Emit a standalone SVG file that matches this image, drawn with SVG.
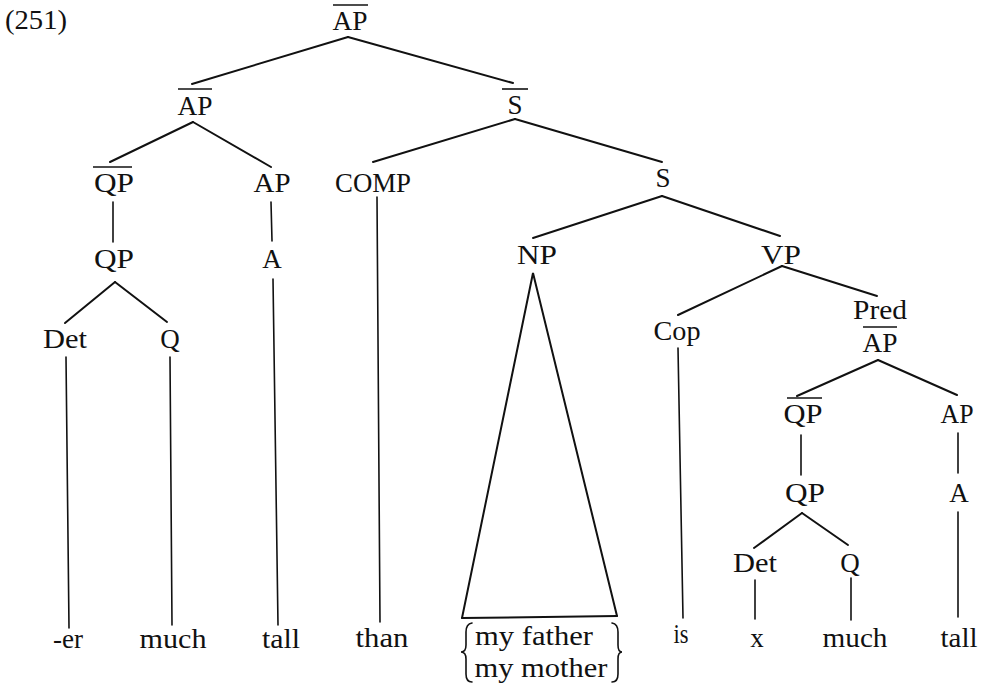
<svg xmlns="http://www.w3.org/2000/svg" width="986" height="686" viewBox="0 0 986 686">
<style>
text{font-family:"Liberation Serif","Times New Roman",serif;font-size:27px;fill:#111;text-anchor:middle}
.num{text-anchor:start}
.e{stroke:#111;stroke-width:2;fill:none;stroke-linecap:round}
.v{stroke:#111;stroke-width:1.6;fill:none;stroke-linecap:round}
.bar{stroke:#111;stroke-width:1.6}
</style>
<rect width="986" height="686" fill="#fff"/>
<text class="num" x="5" y="29" textLength="62" lengthAdjust="spacingAndGlyphs">(251)</text>
<g id="connectors">
  <line class="e" x1="348" y1="37" x2="192" y2="84"/>
  <line class="e" x1="348" y1="37" x2="513" y2="83"/>
  <line class="e" x1="193" y1="122" x2="110" y2="162"/>
  <line class="e" x1="193" y1="122" x2="271" y2="167"/>
  <line class="e" x1="515" y1="119" x2="373" y2="162"/>
  <line class="e" x1="515" y1="119" x2="662" y2="162"/>
  <line class="v" x1="113" y1="202" x2="113" y2="242"/>
  <line class="v" x1="271" y1="202" x2="272" y2="241"/>
  <line class="v" x1="377" y1="197" x2="380" y2="622"/>
  <line class="e" x1="662" y1="196" x2="533" y2="238"/>
  <line class="e" x1="662" y1="196" x2="780" y2="236"/>
  <line class="e" x1="115" y1="282" x2="65" y2="323"/>
  <line class="e" x1="115" y1="282" x2="167" y2="322"/>
  <line class="v" x1="66" y1="357" x2="69" y2="628"/>
  <line class="v" x1="170" y1="357" x2="172" y2="625"/>
  <line class="v" x1="273" y1="279" x2="278" y2="625"/>
  <polyline class="e" points="462,618 533,273 617,616"/>
  <line class="e" x1="462" y1="618" x2="617" y2="616"/>
  <line class="e" x1="782" y1="266" x2="678" y2="315"/>
  <line class="e" x1="782" y1="266" x2="877" y2="296"/>
  <line class="v" x1="678" y1="348" x2="683" y2="618"/>
  <line class="e" x1="878" y1="360" x2="797" y2="396"/>
  <line class="e" x1="878" y1="360" x2="957" y2="395"/>
  <line class="v" x1="801" y1="435" x2="801" y2="475"/>
  <line class="v" x1="958" y1="433" x2="958" y2="473"/>
  <line class="e" x1="802" y1="513" x2="754" y2="548"/>
  <line class="e" x1="802" y1="513" x2="848" y2="545"/>
  <line class="v" x1="755" y1="580" x2="755" y2="619"/>
  <line class="v" x1="851" y1="578" x2="851" y2="620"/>
  <line class="v" x1="958" y1="512" x2="958" y2="617"/>
</g>
<g id="n-root"><line class="bar" x1="333" y1="5" x2="368" y2="5"/><text x="350" y="30" textLength="35" lengthAdjust="spacingAndGlyphs">AP</text></g>
<g id="n-apbar"><line class="bar" x1="178" y1="89" x2="212" y2="89"/><text x="195" y="115" textLength="35" lengthAdjust="spacingAndGlyphs">AP</text></g>
<g id="n-sbar"><line class="bar" x1="502" y1="89" x2="528" y2="89"/><text x="515" y="114">S</text></g>
<g id="n-qpbar1"><line class="bar" x1="93" y1="167" x2="132" y2="167"/><text x="114" y="192" textLength="40" lengthAdjust="spacingAndGlyphs">QP</text></g>
<g id="n-ap1"><text x="272" y="192" textLength="37" lengthAdjust="spacingAndGlyphs">AP</text></g>
<g id="n-comp"><text x="373" y="192" textLength="76" lengthAdjust="spacingAndGlyphs">COMP</text></g>
<g id="n-s"><text x="663" y="187">S</text></g>
<g id="n-qp1"><text x="114" y="268" textLength="40" lengthAdjust="spacingAndGlyphs">QP</text></g>
<g id="n-a1"><text x="272" y="268">A</text></g>
<g id="n-np"><text x="537" y="264" textLength="40" lengthAdjust="spacingAndGlyphs">NP</text></g>
<g id="n-vp"><text x="781" y="264" textLength="40" lengthAdjust="spacingAndGlyphs">VP</text></g>
<g id="n-det1"><text x="65" y="348" textLength="44" lengthAdjust="spacingAndGlyphs">Det</text></g>
<g id="n-q1"><text x="170" y="348">Q</text></g>
<g id="n-cop"><text x="677" y="340" textLength="47" lengthAdjust="spacingAndGlyphs">Cop</text></g>
<g id="n-predap"><text x="880" y="319" textLength="54" lengthAdjust="spacingAndGlyphs">Pred</text><line class="bar" x1="863" y1="327" x2="897" y2="327"/><text x="880" y="352" textLength="35" lengthAdjust="spacingAndGlyphs">AP</text></g>
<g id="n-qpbar2"><line class="bar" x1="787" y1="398" x2="822" y2="398"/><text x="803" y="423" textLength="39" lengthAdjust="spacingAndGlyphs">QP</text></g>
<g id="n-ap2"><text x="957" y="423" textLength="33" lengthAdjust="spacingAndGlyphs">AP</text></g>
<g id="n-qp2"><text x="805" y="502" textLength="40" lengthAdjust="spacingAndGlyphs">QP</text></g>
<g id="n-a2"><text x="959" y="502">A</text></g>
<g id="n-det2"><text x="755" y="572" textLength="44" lengthAdjust="spacingAndGlyphs">Det</text></g>
<g id="n-q2"><text x="850" y="572">Q</text></g>
<g id="w-er"><text x="68" y="648" textLength="30" lengthAdjust="spacingAndGlyphs">-er</text></g>
<g id="w-much1"><text x="173" y="648" textLength="67" lengthAdjust="spacingAndGlyphs">much</text></g>
<g id="w-tall1"><text x="281" y="648" textLength="38" lengthAdjust="spacingAndGlyphs">tall</text></g>
<g id="w-than"><text x="382" y="647" textLength="53" lengthAdjust="spacingAndGlyphs">than</text></g>
<g id="w-np">
  <path class="v" d="M472,623 Q466,624 466,632 L466,645 Q466,652 461,652 Q466,652 466,659 L466,674 Q466,682 472,682"/>
  <path class="v" d="M612,623 Q618,624 618,632 L618,645 Q618,652 622,652 Q618,652 618,659 L618,674 Q618,682 612,682"/>
  <text x="534" y="645" textLength="118" lengthAdjust="spacingAndGlyphs">my father</text>
  <text x="541" y="677" textLength="133" lengthAdjust="spacingAndGlyphs">my mother</text>
</g>
<g id="w-is"><text x="681" y="643" textLength="15" lengthAdjust="spacingAndGlyphs">is</text></g>
<g id="w-x"><text x="757" y="647">x</text></g>
<g id="w-much2"><text x="855" y="647" textLength="65" lengthAdjust="spacingAndGlyphs">much</text></g>
<g id="w-tall2"><text x="959" y="647" textLength="37" lengthAdjust="spacingAndGlyphs">tall</text></g>
</svg>
